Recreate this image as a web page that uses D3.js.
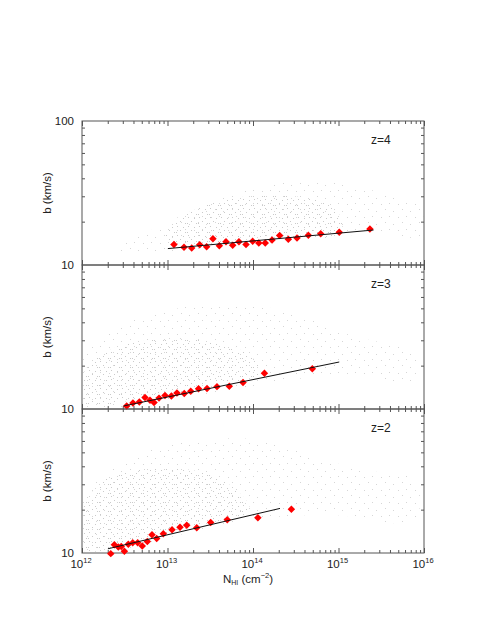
<!DOCTYPE html>
<html><head><meta charset="utf-8">
<script src="https://cdn.jsdelivr.net/npm/d3@7"></script>
<style>
body{margin:0;background:#fff;}
text{font-family:"Liberation Sans",Arial,sans-serif;fill:#222;}
</style></head>
<body><svg id="c" width="485" height="627"></svg>
<script>
// ---------- data ----------
const panelLabels = ["z=4", "z=3", "z=2"];
const xTickLabels = ["12", "13", "14", "15", "16"];

// z=4 binned points
const nZ4 = [1.19e13,1.56e13,1.92e13,2.38e13,2.87e13,3.40e13,4.04e13,4.83e13,5.79e13,6.85e13,8.28e13,9.91e13,1.17e14,1.39e14,1.67e14,2.05e14,2.59e14,3.27e14,4.44e14,6.19e14,1.02e15,2.33e15];
const bZ4 = [13.9,13.3,13.1,13.8,13.4,15.2,13.6,14.5,13.7,14.5,13.9,14.6,14.2,14.2,14.9,16.0,15.1,15.4,16.1,16.5,16.9,17.8];
// z=3 binned points
const nZ3 = [3.33e12,3.94e12,4.68e12,5.46e12,6.24e12,6.95e12,7.96e12,9.35e12,1.11e13,1.29e13,1.57e13,1.87e13,2.31e13,2.90e13,3.79e13,5.28e13,7.64e13,1.36e14,4.94e14];
const bZ3 = [10.5,11.0,11.2,12.0,11.5,11.1,11.9,12.4,12.3,12.9,12.8,13.3,13.8,13.9,14.3,14.4,15.3,17.7,19.0];
// z=2 binned points
const nZ2 = [2.17e12,2.39e12,2.66e12,2.88e12,3.13e12,3.48e12,3.92e12,4.48e12,5.07e12,5.81e12,6.59e12,7.48e12,8.93e12,1.13e13,1.40e13,1.68e13,2.20e13,3.20e13,5.00e13,1.14e14,2.81e14];
const bZ2 = [9.9,11.4,11.0,11.1,10.3,11.5,11.8,11.8,11.2,12.0,13.4,12.6,13.6,14.5,15.1,15.6,15.0,16.3,17.0,17.6,20.1];

// power-law fits (end points)
const fitNZ4 = [1.01e13, 2.57e15], fitBZ4 = [13.0, 17.5];
const fitNZ3 = [3.07e12, 1.02e15], fitBZ3 = [10.5, 21.2];
const fitNZ2 = [2.01e12, 2.07e14], fitBZ2 = [10.7, 20.4];

// envelopes of the individual-line cloud: [log10 N, b]
const cloudOuterZ4 = [[12.33,12.1],[12.68,15.9],[13.15,21.9],[13.73,30.3],[14.43,38.5],[15.02,37.2],[15.60,30.3],[15.95,25.8],[15.95,15.9],[15.49,16.7],[14.55,14.7],[13.38,12.9],[12.80,12.1]];
const cloudInnerZ4 = [[12.97,15.2],[13.20,21.9],[13.61,27.9],[14.20,30.3],[14.78,27.9],[15.02,21.9],[15.02,16.7],[14.08,15.2],[13.38,14.2]];
const cloudOuterZ3 = [[12.01,10.7],[12.01,21.9],[12.33,35.4],[12.80,45.0],[13.38,52.8],[13.96,52.8],[14.55,45.0],[15.13,32.7],[15.89,23.7],[15.89,15.9],[15.02,17.2],[14.08,14.7],[13.38,12.5],[12.68,10.7]];
const cloudInnerZ3 = [[12.01,11.0],[12.04,18.7],[12.33,25.7],[12.80,30.2],[13.38,30.2],[13.96,23.7],[14.08,17.2],[13.38,14.7],[12.68,11.9],[12.33,10.8]];
const cloudOuterZ2 = [[12.01,10.2],[12.01,23.4],[12.33,37.8],[12.80,52.0],[13.38,61.0],[14.08,61.0],[14.67,48.0],[15.25,37.8],[15.89,32.2],[15.89,17.0],[14.90,18.4],[13.96,17.0],[13.15,13.4],[12.44,10.5]];
const cloudInnerZ2 = [[12.01,10.5],[12.01,20.0],[12.27,32.2],[12.68,37.8],[13.26,37.8],[13.73,29.7],[13.96,20.0],[13.38,15.7],[12.68,12.4],[12.27,10.5]];

// ---------- layout ----------
const L = 82, R = 424, T0 = 121, PH = 144;
const svg = d3.select("#c");
const x = d3.scaleLog().domain([1e12, 1e16]).range([L, R]);

const defs = svg.append("defs");
function pattern(id, w, h, dots, col) {
  const p = defs.append("pattern").attr("id", id).attr("patternUnits", "userSpaceOnUse")
    .attr("width", w).attr("height", h);
  dots.forEach(d => p.append("rect").attr("x", d[0]).attr("y", d[1]).attr("width", 1).attr("height", 1).attr("fill", col));
}
pattern("sparse", 17, 13, [[2,3],[11,1],[7,9],[15,8]], "#d6d6d6");
pattern("dense", 11, 9, [[1,1],[7,2],[4,5],[9,7],[0,7]], "#cacaca");

const panels = [
  {lab: panelLabels[0], n: nZ4, b: bZ4, fn: fitNZ4, fb: fitBZ4, co: cloudOuterZ4, ci: cloudInnerZ4},
  {lab: panelLabels[1], n: nZ3, b: bZ3, fn: fitNZ3, fb: fitBZ3, co: cloudOuterZ3, ci: cloudInnerZ3},
  {lab: panelLabels[2], n: nZ2, b: bZ2, fn: fitNZ2, fb: fitBZ2, co: cloudOuterZ2, ci: cloudInnerZ2}
];

const decades = [1e12, 1e13, 1e14, 1e15, 1e16];
const minorX = x.ticks().filter(v => decades.indexOf(v) < 0);
const minorY = [20,30,40,50,60,70,80,90];

panels.forEach((p, i) => {
  const top = T0 + i * PH, bot = top + PH;
  const y = d3.scaleLog().domain([10, 100]).range([bot, top]);
  const g = svg.append("g");
  const cid = "clip" + i;
  defs.append("clipPath").attr("id", cid).append("rect")
    .attr("x", L).attr("y", top).attr("width", R - L).attr("height", PH);

  const poly = d3.line().x(d => x(Math.pow(10, d[0]))).y(d => y(d[1])).curve(d3.curveCatmullRomClosed);
  const cg = g.append("g").attr("clip-path", `url(#${cid})`);
  cg.append("path").attr("d", poly(p.co)).attr("fill", "url(#sparse)");
  cg.append("path").attr("d", poly(p.ci)).attr("fill", "url(#dense)");

  // axes (ticks pointing inward)
  const mk = (axis, tr, vals, size) => {
    const a = g.append("g").attr("transform", tr)
      .call(axis.tickValues(vals).tickSize(-size).tickFormat(""));
    a.select(".domain").remove();
    a.selectAll("line").attr("stroke", "#555");
    return a;
  };
  mk(d3.axisBottom(x), `translate(0,${bot})`, decades, 5);
  mk(d3.axisBottom(x), `translate(0,${bot})`, minorX, 3);
  mk(d3.axisTop(x), `translate(0,${top})`, decades, 5);
  mk(d3.axisTop(x), `translate(0,${top})`, minorX, 3);
  mk(d3.axisLeft(y), `translate(${L},0)`, minorY, 3);
  mk(d3.axisRight(y), `translate(${R},0)`, minorY, 3);

  g.append("rect").attr("x", L).attr("y", top).attr("width", R - L).attr("height", PH)
    .attr("fill", "none").attr("stroke", "#555").attr("stroke-width", 1);

  // y tick labels
  const yl = i === 0 ? [100, 10] : [10];
  g.selectAll(".yl").data(yl).enter().append("text")
    .attr("x", L - 8).attr("y", d => y(d)).attr("dy", "0.35em")
    .attr("text-anchor", "end").attr("font-size", 11.5).text(d => d);

  g.append("text").attr("transform", `translate(47,${(top + bot) / 2}) rotate(-90)`)
    .attr("text-anchor", "middle").attr("dy", "0.35em").attr("font-size", 11.5).text("b (km/s)");

  g.append("text").attr("x", 371).attr("y", top + 23).attr("font-size", 12).text(p.lab);

  // binned points
  const pts = p.n.map((v, k) => [v, p.b[k]]);
  g.selectAll(".pt").data(pts).enter().append("path")
    .attr("d", d3.symbol().type(d3.symbolSquare).size(28))
    .attr("transform", d => `translate(${x(d[0])},${y(d[1])}) rotate(45)`)
    .attr("fill", "#ff0000");

  // fit
  g.append("path").attr("d", d3.line().x(d => x(d[0])).y(d => y(d[1]))(p.fn.map((v, k) => [v, p.fb[k]])))
    .attr("stroke", "#111").attr("stroke-width", 1).attr("fill", "none");

  if (i === 2) {
    const xl = g.append("g");
    xl.selectAll("text").data(decades).enter().append("text")
      .attr("x", d => x(d) - 1).attr("y", bot + 15).attr("text-anchor", "middle")
      .each(function(d, k) {
        const t = d3.select(this);
        t.append("tspan").attr("font-size", 11.5).text("10");
        t.append("tspan").attr("font-size", 7.5).attr("dy", -5).text(xTickLabels[k]);
      });
    const tt = g.append("text").attr("x", 248).attr("y", bot + 30).attr("text-anchor", "middle").attr("font-size", 11.5);
    tt.append("tspan").text("N");
    tt.append("tspan").attr("font-size", 7).attr("dy", 2).text("HI");
    tt.append("tspan").attr("dy", -2).text(" (cm");
    tt.append("tspan").attr("font-size", 7.5).attr("dy", -5).text("\u22122");
    tt.append("tspan").attr("dy", 5).text(")");
  }
});
</script></body></html>
